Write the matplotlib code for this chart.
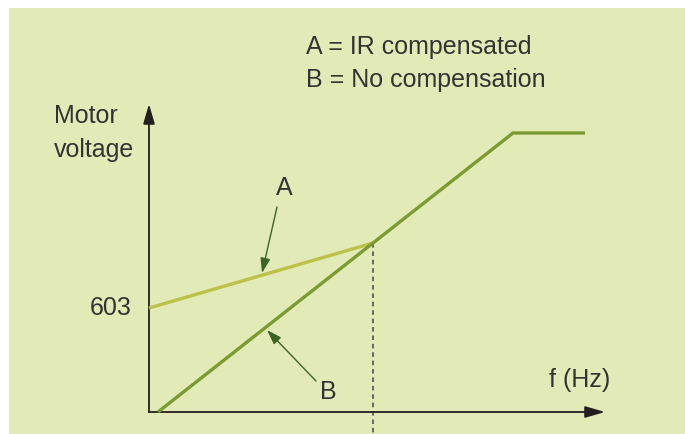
import matplotlib.pyplot as plt
from matplotlib.patches import Rectangle

plt.rcParams['font.family'] = ['Liberation Sans', 'DejaVu Sans']

#### DATA #####
# frequency / voltage in arbitrary units (no scale on the original)
f_b = [0.9, 22.4, 36.4, 43.6]
v_b = [0.0, 16.9, 27.9, 27.9]
f_a = [0.0, 22.4]
v_a = [10.4, 16.9]
knee_f = 22.4
boost_label = "603"
legend_lines = ["A = IR compensated", "B = No compensation"]

#### COLOURS #####
BG = '#e2ebb8'
COL_A = '#bcc147'
COL_B = '#7b9a30'
COL_ARROW = '#3e6424'
COL_AXIS = '#231f20'
COL_TEXT = '#333333'
FS = 18

fig = plt.figure(figsize=(6.85, 4.34), dpi=100)
fig.patch.set_facecolor('white')
ax = fig.add_axes([0, 0, 1, 1])
ax.set_xlim(-14.9, 53.6)
ax.set_ylim(-2.2, 41.2)
ax.axis('off')

# green panel
ax.add_patch(Rectangle((-14.0, -2.2), 68.0, 42.6, facecolor=BG, edgecolor='none', zorder=0))

# axes with arrow heads
ax.annotate('', xy=(45.6, 0), xytext=(0, 0),
            arrowprops=dict(arrowstyle='-|>,head_length=1.2,head_width=0.35',
                            color=COL_AXIS, lw=1.3, shrinkA=0, shrinkB=0))
ax.annotate('', xy=(0, 30.8), xytext=(0, 0),
            arrowprops=dict(arrowstyle='-|>,head_length=1.2,head_width=0.35',
                            color=COL_AXIS, lw=1.3, shrinkA=0, shrinkB=0))

# curves
ax.plot(f_a, v_a, color=COL_A, lw=2.4, solid_capstyle='butt', zorder=3)
ax.plot(f_b, v_b, color=COL_B, lw=2.4, solid_capstyle='butt', zorder=4)
ax.plot([knee_f, knee_f], [v_b[1], -2.2], color='#444444', lw=1.1,
        linestyle=(0, (3, 2.5)), zorder=2)

# labels
ax.text(-1.7, v_a[0], boost_label, ha='right', va='center', fontsize=FS, color=COL_TEXT)
ax.text(-9.5, 29.6, "Motor", ha='left', va='center', fontsize=FS, color=COL_TEXT)
ax.text(-9.5, 26.2, "voltage", ha='left', va='center', fontsize=FS, color=COL_TEXT)
ax.text(43.1, 3.2, "f (Hz)", ha='center', va='center', fontsize=FS, color=COL_TEXT)
ax.text(15.7, 36.5, legend_lines[0], ha='left', va='center', fontsize=FS, color=COL_TEXT)
ax.text(15.7, 33.2, legend_lines[1], ha='left', va='center', fontsize=FS, color=COL_TEXT)

# A / B pointers
ax.text(13.5, 22.4, "A", ha='center', va='center', fontsize=FS, color=COL_TEXT)
ax.annotate('', xy=(11.3, 13.9), xytext=(12.8, 20.5),
            arrowprops=dict(arrowstyle='-|>,head_length=0.9,head_width=0.3',
                            color=COL_ARROW, lw=1.0, shrinkA=0, shrinkB=0))
ax.text(17.9, 2.0, "B", ha='center', va='center', fontsize=FS, color=COL_TEXT)
ax.annotate('', xy=(11.8, 8.2), xytext=(16.7, 3.1),
            arrowprops=dict(arrowstyle='-|>,head_length=0.9,head_width=0.3',
                            color=COL_ARROW, lw=1.0, shrinkA=0, shrinkB=0))

fig.savefig('out.png', dpi=100, facecolor=fig.get_facecolor())
